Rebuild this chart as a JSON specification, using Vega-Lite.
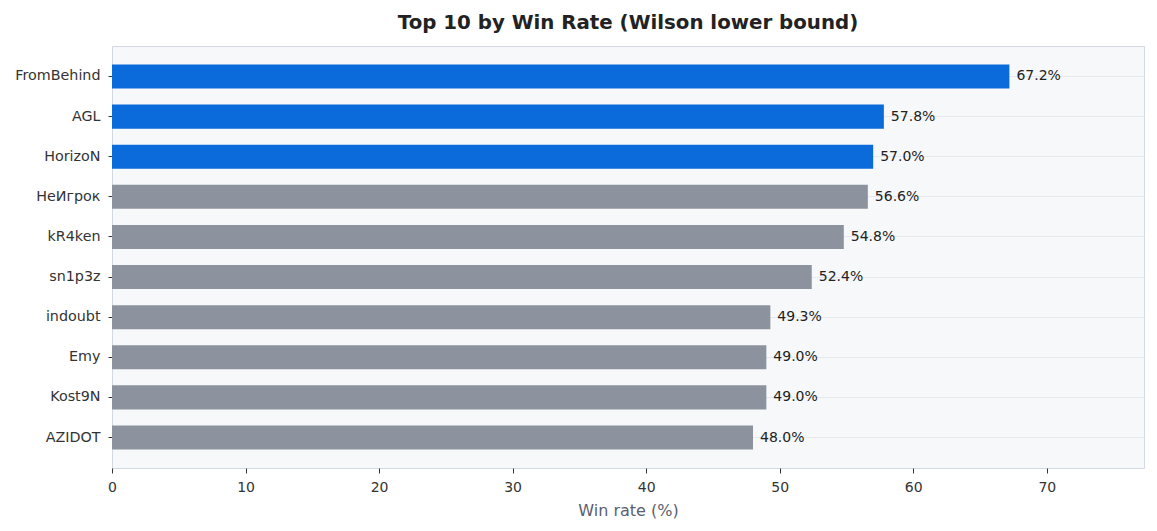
{
  "$schema": "https://vega.github.io/schema/vega-lite/v6.json",
  "autosize": {"type": "none"},
  "width": 1032,
  "height": 422,
  "padding": {"left": 112, "top": 46, "right": 13, "bottom": 63},
  "background": "white",
  "title": {
    "text": "Top 10 by Win Rate (Wilson lower bound)",
    "fontSize": 19.8,
    "fontWeight": "bold",
    "color": "#222222",
    "offset": 13
  },
  "config": {
    "font": "DejaVu Sans",
    "view": {"fill": "#f6f8fa", "stroke": "#d3d9e2", "strokeWidth": 1}
  },
  "data": {
    "values": [
      {"player": "FromBehind", "rate": 67.2, "top": true},
      {"player": "AGL", "rate": 57.8, "top": true},
      {"player": "HorizoN", "rate": 57.0, "top": true},
      {"player": "НеИгрок", "rate": 56.6, "top": false},
      {"player": "kR4ken", "rate": 54.8, "top": false},
      {"player": "sn1p3z", "rate": 52.4, "top": false},
      {"player": "indoubt", "rate": 49.3, "top": false},
      {"player": "Emy", "rate": 49.0, "top": false},
      {"player": "Kost9N", "rate": 49.0, "top": false},
      {"player": "AZIDOT", "rate": 48.0, "top": false}
    ]
  },
  "transform": [
    {"calculate": "format(datum.rate, '.1f') + '%'", "as": "label"}
  ],
  "encoding": {
    "y": {
      "field": "player",
      "type": "nominal",
      "sort": null,
      "title": null,
      "scale": {"paddingInner": 0.4, "paddingOuter": 0.46},
      "axis": {
        "labelFontSize": 14.3,
        "labelColor": "#333333",
        "labelPadding": 8,
        "tickColor": "#333333",
        "tickSize": 4,
        "domain": false,
        "grid": true,
        "gridColor": "#e6eaf0",
        "gridWidth": 1,
        "bandPosition": 0.5
      }
    },
    "x": {
      "field": "rate",
      "type": "quantitative",
      "title": "Win rate (%)",
      "scale": {"domain": [0, 77.28], "nice": false},
      "axis": {
        "values": [0, 10, 20, 30, 40, 50, 60, 70],
        "grid": false,
        "domain": false,
        "labelFlush": false,
        "labelFontSize": 14,
        "labelColor": "#333333",
        "labelPadding": 7,
        "tickColor": "#333333",
        "tickSize": 5,
        "titleFontSize": 16,
        "titleFontWeight": "normal",
        "titleColor": "#5a6070",
        "titlePadding": 8
      }
    }
  },
  "layer": [
    {
      "mark": {"type": "bar"},
      "encoding": {
        "color": {
          "field": "top",
          "type": "nominal",
          "scale": {"domain": [true, false], "range": ["#0b6bdb", "#8c939e"]},
          "legend": null
        }
      }
    },
    {
      "mark": {"type": "text", "align": "left", "dx": 7, "fontSize": 14, "color": "#222222"},
      "encoding": {
        "text": {"field": "label", "type": "nominal"}
      }
    }
  ]
}
